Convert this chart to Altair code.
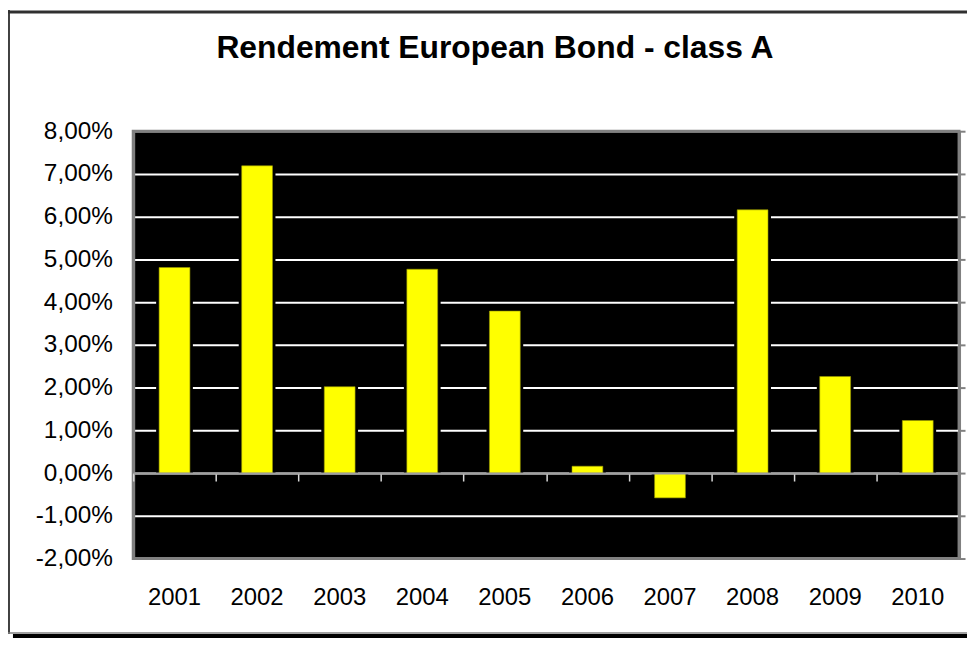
import altair as alt
import pandas as pd

years = ["2001", "2002", "2003", "2004", "2005", "2006", "2007", "2008", "2009", "2010"]
returns = [4.81, 7.19, 2.02, 4.77, 3.79, 0.16, -0.58, 6.16, 2.26, 1.23]
tick_values = [-2, -1, 0, 1, 2, 3, 4, 5, 6, 7, 8]
title_text = "Rendement European Bond - class A"

df = pd.DataFrame({"year": years, "value": returns})
one = pd.DataFrame({"k": [0]})
title_df = pd.DataFrame({"t": [title_text]})

FONT = "Liberation Sans"
GRAY = "#808080"

label_expr = "(datum.value < 0 ? '-' : '') + replace(format(abs(datum.value), '.2f'), '.', ',') + '%'"

xscale = alt.Scale(paddingInner=0, paddingOuter=0)
yscale = alt.Scale(domain=[-2, 8], nice=False)

x_labels = alt.X("year:N", scale=xscale, sort=years,
                 axis=alt.Axis(title=None, orient="bottom", labelAngle=0, domain=False, ticks=False,
                               labelFontSize=24, labelPadding=27, labelColor="black",
                               labelFont=FONT))
y_left = alt.Y("value:Q", scale=yscale,
               axis=alt.Axis(title=None, orient="left", values=tick_values, labelExpr=label_expr,
                             grid=True,
                             gridColor={"condition": {"test": "datum.value == 8 || datum.value == -2",
                                                      "value": GRAY}, "value": "white"},
                             gridWidth=2, ticks=False, domain=True, domainColor=GRAY,
                             domainWidth=3, labelPadding=21, labelFontSize=24.5,
                             labelColor="black", labelFont=FONT))

black_bars = alt.Chart(df).mark_bar(size=37, color="black").encode(x=x_labels, y=y_left)

x_zero = alt.X("year:N", scale=xscale, sort=years,
               axis=alt.Axis(title=None, orient="bottom", labels=False, domainColor="#a0a0a0",
                             domainWidth=2, tickColor="#d8d8d8", tickSize=8, tickWidth=1.5,
                             tickBand="extent", offset=-86, grid=False, zindex=1))
y_right = alt.Y("value:Q", scale=yscale,
                axis=alt.Axis(orient="right", title=None, labels=False, values=tick_values,
                              tickColor=GRAY, tickSize=6, tickWidth=2, domainColor=GRAY,
                              domainWidth=3, grid=False, zindex=1))

yellow_bars = alt.Chart(df).mark_bar(size=31, color="#ffff00", stroke="#9a9a00",
                                     strokeWidth=0.6).encode(x=x_zero, y=y_right)

title_mark = alt.Chart(title_df).mark_text(font=FONT, fontSize=32, fontWeight="bold",
                                           color="black", align="center",
                                           baseline="alphabetic").encode(
    text="t:N", x=alt.value(364), y=alt.value(-74))

frame_left = alt.Chart(one).mark_rule(color="#404040", strokeWidth=2).encode(
    x=alt.value(-125), y=alt.value(-122), y2=alt.value(506))
frame_top = alt.Chart(one).mark_rule(color="#303030", strokeWidth=3).encode(
    x=alt.value(-126), x2=alt.value(840), y=alt.value(-120))
frame_bottom = alt.Chart(one).mark_rule(color=GRAY, strokeWidth=1.5).encode(
    x=alt.value(-126), x2=alt.value(840), y=alt.value(505))
frame_shadow = alt.Chart(one).mark_rule(color="black", strokeWidth=4).encode(
    x=alt.value(-121), x2=alt.value(840), y=alt.value(508))

chart = alt.layer(black_bars, yellow_bars, title_mark, frame_left, frame_top, frame_bottom,
                  frame_shadow).resolve_axis(
    x="independent", y="independent"
).properties(
    width=831, height=430,
    autosize=alt.AutoSizeParams(type="none"),
    padding={"left": 126, "top": 122, "right": 8, "bottom": 80},
    background="white",
).configure_view(fill="black", stroke=GRAY, strokeWidth=3)

chart.save("out.html", embed_options={"renderer": "svg", "actions": False})
